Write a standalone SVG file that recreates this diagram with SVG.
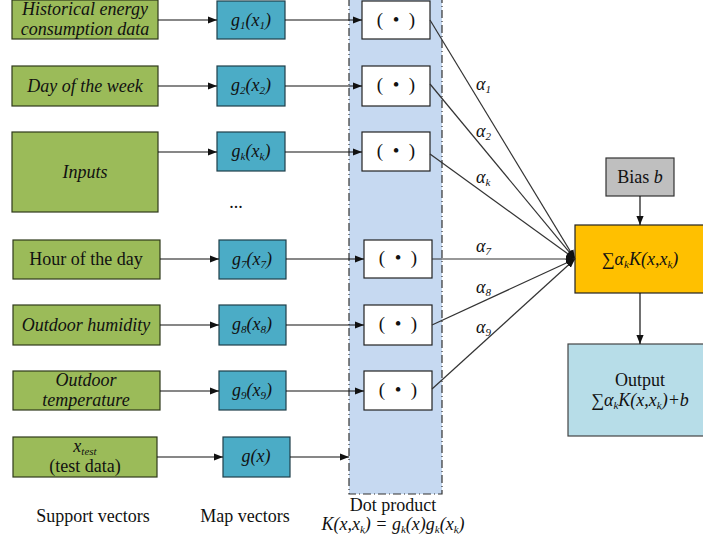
<svg xmlns="http://www.w3.org/2000/svg" width="703" height="544" viewBox="0 0 703 544">
<style>
text{font-family:'Liberation Serif','DejaVu Serif',serif;font-size:18px;fill:#111;}
.it{font-style:italic;}
.green{fill:#9bbb59;stroke:#2f3a1c;stroke-width:1.2;}
.blue{fill:#4bacc6;stroke:#1f3f4a;stroke-width:1.2;}
.dot{fill:#fff;stroke:#222;stroke-width:1.2;}
.conn{stroke:#111;stroke-width:1.2;fill:none;marker-end:url(#ah);}
.conn2{stroke:#333;stroke-width:1.2;fill:none;marker-end:url(#ah);}
.sub{font-size:11px;}
.dp{font-size:19px;}
</style>
<defs>
<marker id="ah" viewBox="0 0 10 10" refX="10" refY="5" markerWidth="9" markerHeight="9" markerUnits="userSpaceOnUse" orient="auto">
<path d="M0,1 L10,5 L0,9 z" fill="#111"/>
</marker>
</defs>
<rect id="band" x="349" y="-2" width="93" height="496" fill="#c6d9f1" stroke="#333" stroke-width="1.2" stroke-dasharray="8,3,1,3"/>
<g id="sv1"><rect class="green" x="12" y="0" width="146" height="39"/><text class="it" x="85" y="15" text-anchor="middle">Historical energy</text><text class="it" x="85" y="35" text-anchor="middle">consumption data</text></g>
<g id="sv2"><rect class="green" x="12" y="66" width="146" height="40"/><text class="it" x="85" y="92" text-anchor="middle">Day of the week</text></g>
<g id="sv3"><rect class="green" x="12" y="132" width="146" height="80"/><text class="it" x="85" y="178" text-anchor="middle">Inputs</text></g>
<g id="sv4"><rect class="green" x="13" y="240" width="147" height="39"/><text x="86" y="265" text-anchor="middle">Hour of the day</text></g>
<g id="sv5"><rect class="green" x="13" y="305" width="147" height="40"/><text class="it" x="86" y="331" text-anchor="middle">Outdoor humidity</text></g>
<g id="sv6"><rect class="green" x="13" y="371" width="147" height="39"/><text class="it" x="86" y="386" text-anchor="middle">Outdoor</text><text class="it" x="86" y="406" text-anchor="middle">temperature</text></g>
<g id="sv7"><rect class="green" x="13" y="437" width="144" height="40"/><text x="85" y="452" text-anchor="middle"><tspan class="it">x</tspan><tspan class="it sub" dy="3">test</tspan></text><text x="85" y="472" text-anchor="middle">(test data)</text></g>
<g id="mv1"><rect class="blue" x="217" y="1" width="68" height="38"/><text class="it" x="251" y="26" text-anchor="middle">g<tspan class="sub" dy="3">1</tspan><tspan dy="-3">(x</tspan><tspan class="sub" dy="3">1</tspan><tspan dy="-3">)</tspan></text></g>
<g id="mv2"><rect class="blue" x="217" y="66" width="68" height="40"/><text class="it" x="251" y="91" text-anchor="middle">g<tspan class="sub" dy="3">2</tspan><tspan dy="-3">(x</tspan><tspan class="sub" dy="3">2</tspan><tspan dy="-3">)</tspan></text></g>
<g id="mvk"><rect class="blue" x="217" y="132" width="68" height="39"/><text class="it" x="251" y="157" text-anchor="middle">g<tspan class="sub" dy="3">k</tspan><tspan dy="-3">(x</tspan><tspan class="sub" dy="3">k</tspan><tspan dy="-3">)</tspan></text></g>
<text id="dots" x="236" y="208" text-anchor="middle" font-size="14">...</text>
<g id="mv7"><rect class="blue" x="219" y="240" width="67" height="39"/><text class="it" x="252" y="265" text-anchor="middle">g<tspan class="sub" dy="3">7</tspan><tspan dy="-3">(x</tspan><tspan class="sub" dy="3">7</tspan><tspan dy="-3">)</tspan></text></g>
<g id="mv8"><rect class="blue" x="219" y="305" width="67" height="40"/><text class="it" x="252" y="330" text-anchor="middle">g<tspan class="sub" dy="3">8</tspan><tspan dy="-3">(x</tspan><tspan class="sub" dy="3">8</tspan><tspan dy="-3">)</tspan></text></g>
<g id="mv9"><rect class="blue" x="219" y="371" width="67" height="39"/><text class="it" x="252" y="396" text-anchor="middle">g<tspan class="sub" dy="3">9</tspan><tspan dy="-3">(x</tspan><tspan class="sub" dy="3">9</tspan><tspan dy="-3">)</tspan></text></g>
<g id="mvx"><rect class="blue" x="223" y="437" width="67" height="40"/><text class="it" x="256" y="462" text-anchor="middle">g(x)</text></g>
<g id="dp1"><rect class="dot" x="362" y="1" width="68" height="38"/><text class="dp" x="396" y="26" text-anchor="middle">(&#160;&#160;•&#160;&#160;)</text></g>
<g id="dp2"><rect class="dot" x="362" y="66" width="68" height="40"/><text class="dp" x="396" y="91" text-anchor="middle">(&#160;&#160;•&#160;&#160;)</text></g>
<g id="dpk"><rect class="dot" x="362" y="132" width="68" height="39"/><text class="dp" x="396" y="157" text-anchor="middle">(&#160;&#160;•&#160;&#160;)</text></g>
<g id="dp7"><rect class="dot" x="364" y="240" width="68" height="38"/><text class="dp" x="398" y="264" text-anchor="middle">(&#160;&#160;•&#160;&#160;)</text></g>
<g id="dp8"><rect class="dot" x="364" y="305" width="68" height="40"/><text class="dp" x="398" y="330" text-anchor="middle">(&#160;&#160;•&#160;&#160;)</text></g>
<g id="dp9"><rect class="dot" x="364" y="371" width="68" height="39"/><text class="dp" x="398" y="396" text-anchor="middle">(&#160;&#160;•&#160;&#160;)</text></g>
<g id="bias"><rect x="606" y="158" width="68" height="38" fill="#bfbfbf" stroke="#333" stroke-width="1.2"/><text x="640" y="183" text-anchor="middle">Bias <tspan class="it">b</tspan></text></g>
<g id="sum"><rect x="575" y="225" width="132" height="68" fill="#ffc000" stroke="#222" stroke-width="1.2"/><text class="it" x="640" y="265" text-anchor="middle"><tspan font-style="normal">∑</tspan>α<tspan class="sub" dy="3">k</tspan><tspan dy="-3">K(x,x</tspan><tspan class="sub" dy="3">k</tspan><tspan dy="-3">)</tspan></text></g>
<g id="out"><rect x="568" y="344" width="139" height="92" fill="#b7dde8" stroke="#444" stroke-width="1.2"/><text x="640" y="386" text-anchor="middle">Output</text><text class="it" x="640" y="406" text-anchor="middle"><tspan font-style="normal">∑</tspan>α<tspan class="sub" dy="3">k</tspan><tspan dy="-3">K(x,x</tspan><tspan class="sub" dy="3">k</tspan><tspan dy="-3">)+</tspan><tspan>b</tspan></text></g>
<g id="connectors">
<line class="conn" x1="158" y1="20" x2="217" y2="20"/>
<line class="conn" x1="158" y1="86" x2="217" y2="86"/>
<line class="conn" x1="158" y1="152" x2="217" y2="152"/>
<line class="conn" x1="160" y1="259" x2="219" y2="259"/>
<line class="conn" x1="160" y1="325" x2="219" y2="325"/>
<line class="conn" x1="160" y1="391" x2="219" y2="391"/>
<line class="conn" x1="157" y1="457" x2="223" y2="457"/>
<line class="conn" x1="285" y1="20" x2="362" y2="20"/>
<line class="conn" x1="285" y1="86" x2="362" y2="86"/>
<line class="conn" x1="285" y1="152" x2="362" y2="152"/>
<line class="conn" x1="286" y1="259" x2="364" y2="259"/>
<line class="conn" x1="286" y1="325" x2="364" y2="325"/>
<line class="conn" x1="286" y1="391" x2="364" y2="391"/>
<line class="conn" x1="290" y1="457" x2="349" y2="457"/>
<line class="conn2" x1="430" y1="20" x2="575" y2="259"/>
<line class="conn2" x1="430" y1="84" x2="575" y2="259"/>
<line class="conn2" x1="430" y1="154" x2="575" y2="259"/>
<line class="conn2" x1="432" y1="259" x2="575" y2="259"/>
<line class="conn2" x1="432" y1="325" x2="575" y2="259"/>
<line class="conn2" x1="432" y1="389" x2="575" y2="259"/>
<line class="conn" x1="640" y1="196" x2="640" y2="225"/>
<line class="conn" x1="640" y1="293" x2="640" y2="344"/>
</g>
<g id="alpha-labels">
<text class="it" x="476" y="90">α<tspan class="sub" dy="3">1</tspan></text>
<text class="it" x="476" y="137">α<tspan class="sub" dy="3">2</tspan></text>
<text class="it" x="476" y="183">α<tspan class="sub" dy="3">k</tspan></text>
<text class="it" x="476" y="252">α<tspan class="sub" dy="3">7</tspan></text>
<text class="it" x="476" y="293">α<tspan class="sub" dy="3">8</tspan></text>
<text class="it" x="476" y="333">α<tspan class="sub" dy="3">9</tspan></text>
</g>
<text x="93" y="522" text-anchor="middle">Support vectors</text>
<text x="245" y="522" text-anchor="middle">Map vectors</text>
<text x="393" y="511" text-anchor="middle">Dot product</text>
<text class="it" x="393" y="530" text-anchor="middle">K(x,x<tspan class="sub" dy="3">k</tspan><tspan dy="-3">) = </tspan><tspan>g</tspan><tspan class="sub" dy="3">k</tspan><tspan dy="-3">(x)g</tspan><tspan class="sub" dy="3">k</tspan><tspan dy="-3">(x</tspan><tspan class="sub" dy="3">k</tspan><tspan dy="-3">)</tspan></text>
</svg>
